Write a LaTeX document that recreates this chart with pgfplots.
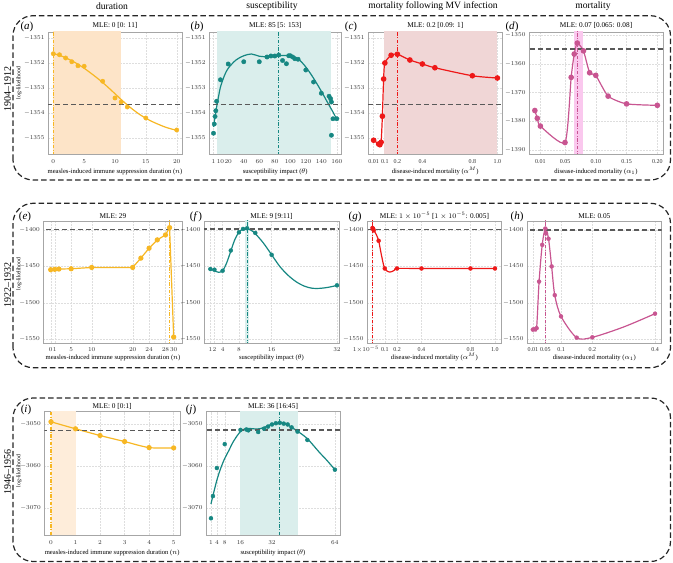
\documentclass[border=0pt]{standalone}
\usepackage{fontspec}
\setmainfont{Liberation Serif}
\usepackage{pgfplots}
\pgfplotsset{compat=1.18}

\definecolor{cOr}{RGB}{247,183,36}
\definecolor{cOrB}{RGB}{253,228,200}
\definecolor{cOrBB}{RGB}{254,237,218}
\definecolor{cTe}{RGB}{22,135,130}
\definecolor{cTeB}{RGB}{218,238,236}
\definecolor{cRe}{RGB}{238,24,24}
\definecolor{cReB}{RGB}{240,214,214}
\definecolor{cPk}{RGB}{200,85,145}
\definecolor{cPkB}{RGB}{250,200,238}

\pgfplotsset{
 every axis title/.style={at={(0.5,1)}, anchor=base, yshift=4.5pt, font=\fontsize{7.3}{8}\selectfont},
 panel/.style={scale only axis, anchor=south west, height=122pt,
   axis line style={black!35, line width=0.6pt},
   major tick length=0pt, grid=major,
   major grid style={dash pattern=on 1.5pt off 1.5pt, black!13, line width=0.35pt},
   tick label style={font=\fontsize{6}{7}\selectfont, text=black!80},
   xticklabel style={anchor=base, yshift=-10pt},
   /pgf/number format/1000 sep={},
   xlabel style={at={(0.5,0)}, anchor=base, yshift=-20pt, font=\fontsize{6.6}{8}\selectfont},
   scaled ticks=false, clip=true},
 rowtwo/.style={xticklabel style={yshift=1pt}, xlabel style={yshift=3pt}, title style={yshift=-1.7pt}},
 rowthree/.style={height=123.3pt, xticklabel style={yshift=0.5pt}, xlabel style={yshift=0.5pt}, title style={yshift=-1pt}},
 hline/.style={black!65, line width=1.2pt, dash pattern=on 5pt off 3pt},
 vline/.style={line width=1.1pt, dash pattern=on 3.5pt off 1.5pt on 1pt off 1.5pt},
 dat/.style={line width=1.2pt, mark=*, mark size=2.2pt, mark options={solid}},
 pts/.style={only marks, mark=*, mark size=2.2pt},
}

\begin{document}
\begin{tikzpicture}
\useasboundingbox (0pt,0pt) rectangle (673pt,563pt);

% ---------------- Row 1 ----------------
% (a)
\begin{axis}[panel, at={(48pt,409pt)}, width=134pt,
  xmin=-0.86, xmax=20.86, ymin=-1355.63, ymax=-1350.75,
  xtick={0,5,10,15,20}, ytick={-1355,-1354,-1353,-1352,-1351},
  title={MLE: 0 [0: 11]}, xlabel={measles-induced immune suppression duration ($n$)}]
\addplot[draw=none, fill=cOrB] coordinates {(0,-1356) (11,-1356) (11,-1350) (0,-1350)} -- cycle;
\addplot[vline, draw=cOr] coordinates {(0,-1356) (0,-1350)};
\addplot[cOr, line width=1.2pt, smooth] coordinates {(0,-1351.62) (1,-1351.68) (2,-1351.78) (3,-1351.9) (4,-1352.04) (5,-1352.2) (6,-1352.38) (7,-1352.57) (8,-1352.77) (9,-1352.99) (10,-1353.22) (11,-1353.45) (12,-1353.67) (13,-1353.87) (14,-1354.05) (15,-1354.2) (16,-1354.33) (17,-1354.44) (18,-1354.54) (19,-1354.62) (20,-1354.68)};
\addplot[pts, cOr] coordinates {(0,-1351.62) (1,-1351.66) (2,-1351.79) (3,-1351.94) (4,-1352.10) (5,-1352.12) (8,-1352.72) (10,-1353.39) (11,-1353.55) (12,-1353.75) (15,-1354.19) (20,-1354.67)};
\addplot[hline] coordinates {(-1,-1353.64) (21,-1353.64)};
\end{axis}

% (b)
\begin{axis}[panel, at={(209pt,409pt)}, width=132.5pt,
  xmin=-4.8, xmax=166, ymin=-1355.63, ymax=-1350.75,
  xtick={1,10,20,40,60,80,100,120,140,160}, ytick={-1355,-1354,-1353,-1352,-1351},
  title={MLE: 85 [5: 153]}, xlabel={susceptibility impact ($\theta$)}]
\addplot[draw=none, fill=cTeB] coordinates {(5,-1356) (153,-1356) (153,-1350) (5,-1350)} -- cycle;
\addplot[vline, draw=cTe] coordinates {(85,-1356) (85,-1350)};
\addplot[cTe, line width=1.2pt, smooth] coordinates {(1,-1354.55) (3,-1354.15) (5,-1353.75) (8,-1353.25) (10,-1352.95) (15,-1352.5) (20,-1352.2) (30,-1351.87) (40,-1351.7) (50,-1351.63) (60,-1351.72) (70,-1351.74) (80,-1351.72) (90,-1351.69) (100,-1351.7) (110,-1351.82) (120,-1352.15) (130,-1352.6) (140,-1353.12) (150,-1353.68) (155,-1353.95) (160,-1354.25)};
\addplot[pts, cTe] coordinates {(1,-1354.80) (2,-1354.43) (3,-1354.13) (4,-1353.9) (5,-1353.52) (10,-1352.66) (20,-1352.03) (40,-1351.94) (60,-1351.94) (70,-1351.75) (75,-1351.71) (80,-1351.71) (85,-1351.67) (90,-1351.89) (95,-1352.02) (98,-1351.70) (100,-1351.70) (103,-1351.75) (106,-1351.82) (110,-1351.84) (120,-1352.27) (130,-1352.75) (140,-1353.2) (150,-1353.32) (152,-1353.42) (153,-1353.55) (155,-1354.22) (160,-1354.22) (153,-1354.88)};
\addplot[hline] coordinates {(-10,-1353.64) (170,-1353.64)};
\end{axis}

% (c)
\begin{axis}[panel, at={(368pt,409pt)}, width=134.5pt,
  xmin=-0.035, xmax=1.041, ymin=-1355.63, ymax=-1350.75,
  xtick={0.01,0.1,0.2,0.4,0.8,1.0}, xticklabels={0.01,0.1,0.2,0.4,0.8,1.0},
  ytick={-1355,-1354,-1353,-1352,-1351},
  title={MLE: 0.2 [0.09: 1]}, xlabel={disease-induced mortality ($\alpha^{M}$)}]
\addplot[draw=none, fill=cReB] coordinates {(0.09,-1356) (1,-1356) (1,-1350) (0.09,-1350)} -- cycle;
\addplot[vline, draw=cRe] coordinates {(0.2,-1356) (0.2,-1350)};
\addplot[dat, cRe, smooth, tension=0.45] coordinates {(0.01,-1355.08) (0.05,-1355.23) (0.06,-1355.26) (0.07,-1355.16) (0.08,-1354.12) (0.09,-1352.63) (0.1,-1351.99) (0.15,-1351.68) (0.2,-1351.64) (0.3,-1351.87) (0.4,-1352.03) (0.5,-1352.18) (0.8,-1352.5) (1.0,-1352.59)};
\addplot[hline] coordinates {(-0.1,-1353.64) (1.1,-1353.64)};
\end{axis}

% (d)
\begin{axis}[panel, at={(529pt,409pt)}, width=134pt,
  xmin=-0.0085, xmax=0.2092, ymin=-1391.28, ymax=-1348.96,
  xtick={0.01,0.05,0.1,0.15,0.2}, xticklabels={0.01,0.05,0.10,0.15,0.20},
  ytick={-1390,-1380,-1370,-1360,-1350},
  title={MLE: 0.07 [0.065: 0.08]}, xlabel={disease-induced mortality ($\alpha_{1}$)}]
\addplot[draw=none, fill=cPkB] coordinates {(0.065,-1400) (0.08,-1400) (0.08,-1340) (0.065,-1340)} -- cycle;
\addplot[vline, draw=cPk] coordinates {(0.07,-1400) (0.07,-1340)};
\addplot[dat, cPk, smooth, tension=0.35] coordinates {(0.001,-1376.2) (0.005,-1378.9) (0.01,-1381.6) (0.05,-1387.3) (0.06,-1364.7) (0.065,-1356.6) (0.07,-1352.8) (0.08,-1355.5) (0.09,-1363.1) (0.1,-1364.0) (0.12,-1371.2) (0.15,-1373.9) (0.2,-1374.4)};
\addplot[hline] coordinates {(-0.02,-1354.85) (0.22,-1354.85)};
\end{axis}

% ---------------- Row 2 ----------------
% (e)
\begin{axis}[panel, rowtwo, at={(43.3pt,220pt)}, width=139.4pt,
  xmin=-1.8, xmax=32.2, ymin=-1555, ymax=-1387.7,
  xtick={0,1,5,10,20,24,28,30}, ytick={-1550,-1500,-1450,-1400},
  title={MLE: 29}, xlabel={measles-induced immune suppression duration ($n$)}]
\addplot[vline, draw=cOr] coordinates {(29,-1600) (29,-1380)};
\addplot[dat, cOr, mark size=2pt] coordinates {(0,-1454.5) (1,-1454) (2,-1453.6) (5,-1453.2) (10,-1451.4) (20,-1451.4) (22,-1438.6) (24,-1425) (26,-1413.6) (28,-1406.8) (29,-1396.8) (30,-1546.8)};
\addplot[hline] coordinates {(-5,-1399) (35,-1399)};
\end{axis}

% (f)
\begin{axis}[panel, rowtwo, at={(204pt,220pt)}, width=135pt,
  xmin=-0.56, xmax=32.5, ymin=-1555, ymax=-1387.7,
  xtick={1,2,4,8,16,32}, ytick={-1550,-1500,-1450,-1400},
  title={MLE: 9 [9:11]}, xlabel={susceptibility impact ($\theta$)}]
\addplot[draw=none, fill=cTeB] coordinates {(9.4,-1600) (10.4,-1600) (10.4,-1380) (9.4,-1380)} -- cycle;
\addplot[vline, draw=cTe] coordinates {(10,-1600) (10,-1380)};
\addplot[cTe, line width=1.2pt, smooth] coordinates {(1,-1453.5) (2,-1456) (3,-1458) (4,-1456) (5,-1445) (6,-1429) (7,-1413) (8,-1403) (9,-1398.5) (10,-1398) (11,-1400.5) (12,-1405) (14,-1418) (16,-1434) (18,-1450) (20,-1462) (22,-1471) (24,-1477) (26,-1480) (28,-1480) (30,-1478.5) (32,-1476)};
\addplot[pts, cTe, mark size=2pt] coordinates {(1,-1453.6) (2,-1454.5) (4,-1455.9) (6,-1428.2) (8,-1403.2) (9,-1398.6) (10,-1397.7) (12,-1404.1) (16,-1434.1) (32,-1475.9)};
\addplot[hline] coordinates {(-5,-1398.8) (35,-1398.8)};
\end{axis}

% (g)
\begin{axis}[panel, rowtwo, at={(367pt,220pt)}, width=134.7pt,
  xmin=-0.045, xmax=1.055, ymin=-1555, ymax=-1387.7,
  xtick={0.00001,0.1,0.2,0.4,0.8,1.0},
  xticklabels={\makebox[13pt][r]{$1{\times}10^{-5}$},0.1,0.2,0.4,0.8,1.0},
  ytick={-1550,-1500,-1450,-1400},
  title={MLE: $1\times10^{-5}$ [$1\times10^{-5}$: 0.005]}, xlabel={disease-induced mortality ($\alpha^{M}$)}]
\addplot[vline, draw=cRe] coordinates {(0.00001,-1600) (0.00001,-1380)};
\addplot[cRe, line width=1.2pt, smooth] coordinates {(0.00001,-1397.2) (0.005,-1398.5) (0.01,-1400.5) (0.03,-1406) (0.05,-1414.8) (0.07,-1432) (0.09,-1448) (0.1,-1452.8) (0.12,-1456.5) (0.14,-1457.8) (0.16,-1457) (0.18,-1455) (0.2,-1452.8) (0.4,-1452.8) (0.8,-1452.8) (1.0,-1452.8)};
\addplot[pts, cRe, mark size=2pt] coordinates {(0.00001,-1397.2) (0.005,-1398.5) (0.01,-1400.5) (0.05,-1414.8) (0.1,-1452.8) (0.2,-1452.8) (0.4,-1452.8) (0.8,-1452.8) (1.0,-1452.8)};
\addplot[hline] coordinates {(-0.1,-1399.3) (1.1,-1399.3)};
\end{axis}

% (h)
\begin{axis}[panel, rowtwo, at={(527pt,220pt)}, width=134.7pt,
  xmin=-0.0086, xmax=0.4213, ymin=-1555, ymax=-1387.7,
  xtick={0.01,0.05,0.1,0.2,0.4}, xticklabels={0.01,0.05,0.1,0.2,0.4},
  ytick={-1550,-1500,-1450,-1400},
  title={MLE: 0.05}, xlabel={disease-induced mortality ($\alpha_{1}$)}]
\addplot[vline, draw=cPk] coordinates {(0.05,-1600) (0.05,-1380)};
\addplot[cPk, line width=1.2pt, smooth, tension=0.5] coordinates {(0.01,-1536.6) (0.015,-1536.1) (0.022,-1534.7) (0.03,-1470.8) (0.04,-1420.4) (0.05,-1398.1) (0.06,-1412) (0.07,-1450) (0.08,-1489.4) (0.1,-1518.5) (0.15,-1547.7) (0.2,-1547.2) (0.3,-1533) (0.4,-1514.8)};
\addplot[pts, cPk, mark size=2pt] coordinates {(0.01,-1536.6) (0.015,-1536.1) (0.022,-1534.7) (0.03,-1470.8) (0.04,-1420.4) (0.05,-1398.1) (0.052,-1404.6) (0.06,-1412) (0.07,-1450) (0.08,-1489.4) (0.1,-1518.5) (0.15,-1547.7) (0.2,-1547.2) (0.4,-1514.8)};
\addplot[hline] coordinates {(-0.1,-1400) (0.5,-1400)};
\end{axis}

% ---------------- Row 3 ----------------
% (i)
\begin{axis}[panel, rowthree, at={(44.3pt,28pt)}, width=135.7pt,
  xmin=-0.273, xmax=5.259, ymin=-3076.4, ymax=-3046.95,
  xtick={0,1,2,3,4,5}, ytick={-3070,-3060,-3050},
  title={MLE: 0 [0:1]}, xlabel={measles-induced immune suppression duration ($n$)}]
\addplot[draw=none, fill=cOrBB] coordinates {(0,-3080) (1,-3080) (1,-3040) (0,-3040)} -- cycle;
\addplot[vline, draw=cOr] coordinates {(0,-3080) (0,-3040)};
\addplot[dat, cOr, mark size=2pt, smooth] coordinates {(0,-3049.36) (1,-3051.04) (2,-3052.64) (3,-3054.08) (4,-3055.52) (5,-3055.6)};
\addplot[hline] coordinates {(-1,-3051.36) (6,-3051.36)};
\end{axis}

% (j)
\begin{axis}[panel, rowthree, at={(206pt,28pt)}, width=134pt,
  xmin=-1.53, xmax=66.6, ymin=-3076.4, ymax=-3046.95,
  xtick={1,4,8,16,32,64}, ytick={-3070,-3060,-3050},
  title={MLE: 36 [16:45]}, xlabel={susceptibility impact ($\theta$)}]
\addplot[draw=none, fill=cTeB] coordinates {(16,-3080) (45,-3080) (45,-3040) (16,-3040)} -- cycle;
\addplot[vline, draw=cTe] coordinates {(36,-3080) (36,-3040)};
\addplot[cTe, line width=1.2pt, smooth] coordinates {(1,-3069) (2,-3067) (4,-3063.3) (6,-3060.4) (8,-3058.1) (10,-3056.3) (12,-3054.4) (14,-3052.9) (16,-3051.7) (18,-3051.1) (20,-3050.95) (22,-3051) (24,-3051.1) (26,-3051) (28,-3050.7) (30,-3050.3) (32,-3049.9) (34,-3049.65) (36,-3049.6) (38,-3049.75) (40,-3050.1) (42,-3050.7) (45,-3051.6) (50,-3053.4) (56,-3056.6) (60,-3058.6) (64,-3060.8)};
\addplot[pts, cTe, mark size=2pt] coordinates {(1,-3072.4) (2,-3067.1) (4,-3060.4) (8,-3054.7) (16,-3051.3) (19,-3051.2) (20,-3051.4) (25,-3051.8) (28,-3051.0) (30,-3050.5) (32,-3050.0) (34,-3049.7) (36,-3049.6) (38,-3049.8) (40,-3050.0) (42,-3050.7) (45,-3051.7) (50,-3053.7) (64,-3060.8)};
\addplot[hline] coordinates {(-5,-3051.3) (70,-3051.3)};
\end{axis}

% ---------------- Decorations ----------------
\begin{scope}[font=\fontsize{9.6}{11}\selectfont]
\node at (112pt,557pt) {duration};
\node at (272pt,557pt) {susceptibility};
\node at (433pt,557pt) {mortality following MV infection};
\node at (593pt,557pt) {mortality};
\end{scope}

\begin{scope}[font=\fontsize{11}{12}\selectfont]
\node at (27pt,536.5pt) {(\textit{a})};
\node at (197pt,536.5pt) {(\textit{b})};
\node at (351pt,536.5pt) {(\textit{c})};
\node at (512pt,536.5pt) {(\textit{d})};
\node at (25pt,346.5pt) {(\textit{e})};
\node at (196pt,346.5pt) {(\textit{f\,})};
\node at (355pt,346.5pt) {(\textit{g})};
\node at (517pt,346.5pt) {(\textit{h})};
\node at (26pt,153pt) {(\textit{i})};
\node at (191pt,153pt) {(\textit{j})};
\end{scope}

\begin{scope}[font=\fontsize{10}{12}\selectfont]
\node[rotate=90] at (7.5pt,474pt) {1904--1912};
\node[rotate=90] at (7.5pt,278pt) {1922--1932};
\node[rotate=90] at (7.5pt,90.5pt) {1946--1956};
\end{scope}
\begin{scope}[font=\fontsize{5.7}{7}\selectfont]
\node[rotate=90] at (19pt,480pt) {log-likelihood};
\node[rotate=90] at (19pt,289pt) {log-likelihood};
\node[rotate=90] at (19pt,92pt) {log-likelihood};
\end{scope}

\begin{scope}[black!85, line width=1.2pt, dash pattern=on 5.5pt off 3pt, rounded corners=20pt]
\draw (13pt,383pt) rectangle (670.5pt,547.3pt);
\draw (13pt,195.3pt) rectangle (670.5pt,359.7pt);
\draw (13pt,1.5pt) rectangle (670.5pt,165pt);
\end{scope}
\end{tikzpicture}
\end{document}
